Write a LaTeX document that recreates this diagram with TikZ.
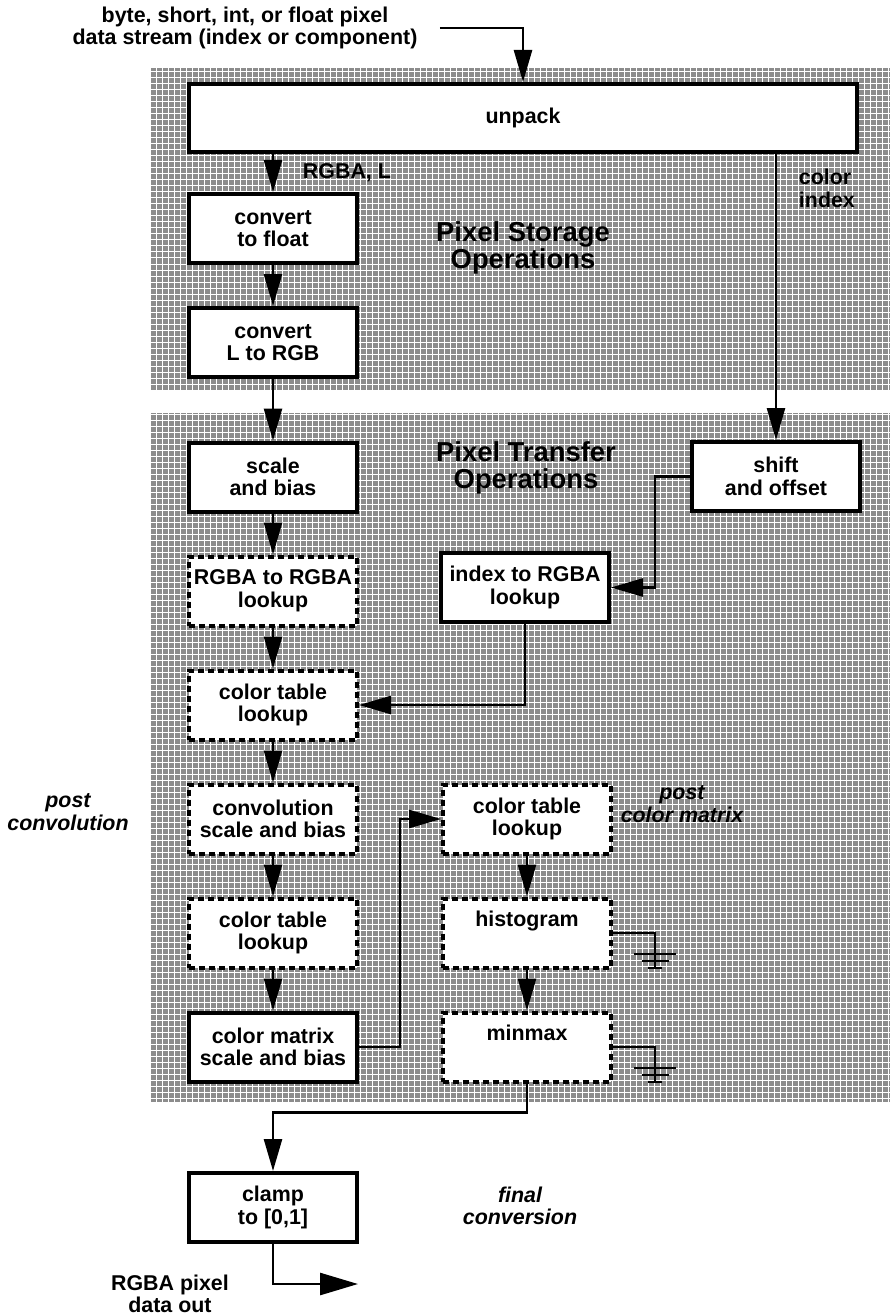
\documentclass[tikz,border=0pt]{standalone}
\usepackage{fontspec}
\setmainfont{Liberation Sans}
\usepackage{tikz}
\usetikzlibrary{arrows.meta, positioning, calc, backgrounds}

\begin{document}
\begin{tikzpicture}[x=0.5pt, y=-0.5pt, node distance=20.5pt and 41pt,
    font=\bfseries\fontsize{10.7}{11.3}\selectfont,
    box/.style={rectangle, draw, line width=2pt, fill=white, minimum width=84pt, minimum height=34.5pt, align=center, inner sep=1pt},
    dashbox/.style={box, dash pattern=on 3pt off 2pt},
    arr/.style={line width=1.3pt, -{Triangle[length=16pt, width=9pt]}},
    wire/.style={line width=1.2pt},
    note/.style={align=center, font=\bfseries\itshape\fontsize{10.7}{11.3}\selectfont},
    heading/.style={align=center, font=\bfseries\fontsize{13.7}{13.5}\selectfont}]
    \useasboundingbox (0,0) rectangle (890,1316);

    % input and unpack
    \node (src) [align=center, inner xsep=11pt] at (245,28) {byte, short, int, or float pixel\\data stream (index or component)};
    \node (unpack) [box, minimum width=334pt, minimum height=34pt] at (523,118) {unpack};

    % left column
    \node (tofloat) [box] at (273,228.5) {convert\\to float};
    \node (ltorgb) [box, below=of tofloat] {convert\\L to RGB};
    \node (scalebias) [box] at (273,477) {scale\\and bias};
    \node (rgbalut) [dashbox, below=of scalebias] {RGBA to RGBA\\lookup};
    \node (ctab) [dashbox, below=of rgbalut] {color table\\lookup};
    \node (convsb) [dashbox, below=of ctab] {convolution\\scale and bias};
    \node (ctabconv) [dashbox, below=of convsb] {color table\\lookup};
    \node (cmatsb) [box, below=of ctabconv] {color matrix\\scale and bias};
    \node (clamp) [box] at (273,1207.5) {clamp\\to [0,1]};

    % right column
    \node (shiftoff) [box] at (776,476.5) {shift\\and offset};
    \node (idxlut) [box] at (525,587.5) {index to RGBA\\lookup};
    \node (ctabcm) [dashbox, right=of convsb] {color table\\lookup};
    \node (histo) [dashbox, below=of ctabcm] {histogram\\\strut};
    \node (minmax) [dashbox, below=of histo] {minmax\\\strut};

    % labels
    \node (storage) [heading] at (523,248) {Pixel Storage\\Operations};
    \node (transfer) [heading] at (526,468) {Pixel Transfer\\Operations};
    \node (postcm) [note] at (682,804) {post\\color matrix};
    \node (postconv) [note] at (68,812) {post\\convolution};
    \node (final) [note] at (520,1206) {final\\conversion};
    \node (outlbl) [align=center] at (170,1294) {RGBA pixel\\data out};
    \coordinate (dataout) at (358,1284);

    % shaded areas
    \begin{scope}[on background layer]
        \fill[black!45] (150,68) rectangle (890,390);
        \fill[black!45] (150,413) rectangle (890,1102);
        \draw[white, line width=0.5pt, step=3pt] (150,68) grid (890,390);
        \draw[white, line width=0.5pt, step=3pt] (150,413) grid (890,1102);
    \end{scope}

    % connectors
    \draw[arr] (src.east) -| (unpack.north);
    \draw[arr] (unpack.south -| tofloat) -- node[right, xshift=11pt] {RGBA, L} (tofloat);
    \draw[arr] (unpack.south -| shiftoff) -- node[pos=0.12, right, xshift=7.5pt, align=left] {color\\index} (shiftoff);
    \foreach \a/\b in {tofloat/ltorgb, ltorgb/scalebias, scalebias/rgbalut, rgbalut/ctab, ctab/convsb, convsb/ctabconv, ctabconv/cmatsb, ctabcm/histo, histo/minmax}
        \draw[arr] (\a) -- (\b);
    \draw[arr] (shiftoff.west) -- ++(-35,0) |- (idxlut.east);
    \draw[arr] (idxlut.south) |- (ctab.east);
    \draw[arr] (cmatsb.east) -- ++(41,0) |- (ctabcm.west);
    \draw[arr] (minmax.south) -- ++(0,29) -| (clamp.north);
    \draw[arr, -{Triangle[length=19pt, width=11pt]}] (clamp.south) |- (dataout);

    % grounds
    \foreach \b in {histo, minmax} {
        \draw[wire] (\b.east) -- ++(42,0) coordinate (g) -- ++(0,35);
        \draw[wire] ($(g)+(-21,21)$) -- ++(42,0) ($(g)+(-13.5,28)$) -- ++(27,0) ($(g)+(-7,35)$) -- ++(14,0);
    }
\end{tikzpicture}
\end{document}
